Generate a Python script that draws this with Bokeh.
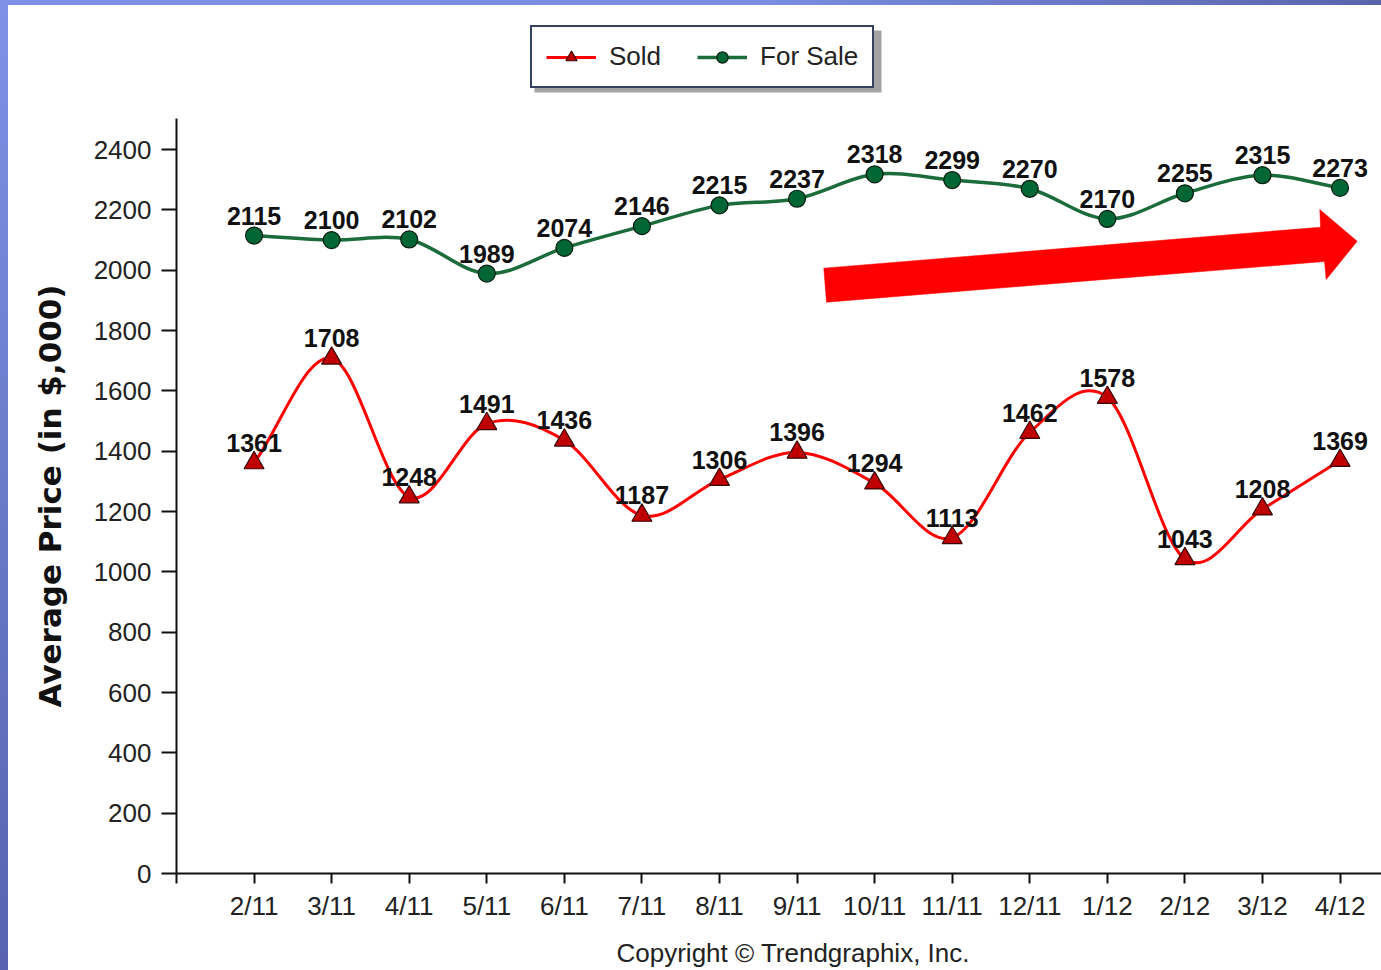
import numpy as np
from bokeh.plotting import figure
from bokeh.models import (ColumnDataSource, FixedTicker, Legend, LegendItem,
                          Range1d, Title, BoxAnnotation)
from bokeh.embed import file_html
from bokeh.resources import INLINE
from bokeh.core.properties import value

# ---------------- data ----------------
months = ["2/11", "3/11", "4/11", "5/11", "6/11", "7/11", "8/11", "9/11",
          "10/11", "11/11", "12/11", "1/12", "2/12", "3/12", "4/12"]
sold = [1361, 1708, 1248, 1491, 1436, 1187, 1306, 1396, 1294, 1113,
        1462, 1578, 1043, 1208, 1369]
for_sale = [2115, 2100, 2102, 1989, 2074, 2146, 2215, 2237, 2318, 2299,
            2270, 2170, 2255, 2315, 2273]
y_ticks = [0, 200, 400, 600, 800, 1000, 1200, 1400, 1600, 1800, 2000, 2200, 2400]
y_axis_top = 2503

x = np.arange(1, len(months) + 1)

# ---------------- geometry ----------------
W, H = 1381, 970
FRAME_LEFT, FRAME_BOTTOM = 176, 873
PX_PER_X = 77.57          # pixels per month
PX_PER_Y = 755 / 2503.0   # pixels per $1,000
X_END = (W - FRAME_LEFT) / PX_PER_X
Y_END = FRAME_BOTTOM / PX_PER_Y


def dx(px):
    return (px - FRAME_LEFT) / PX_PER_X


def dy(py):
    return (FRAME_BOTTOM - py) / PX_PER_Y


def spline_segments(xs, ys):
    """Catmull-Rom segments expressed as cubic Bezier control points."""
    xs = np.asarray(xs, float)
    ys = np.asarray(ys, float)
    mx = np.empty_like(xs)
    my = np.empty_like(ys)
    mx[1:-1] = (xs[2:] - xs[:-2]) / 2
    my[1:-1] = (ys[2:] - ys[:-2]) / 2
    mx[0], my[0] = xs[1] - xs[0], ys[1] - ys[0]
    mx[-1], my[-1] = xs[-1] - xs[-2], ys[-1] - ys[-2]
    return dict(x0=xs[:-1], y0=ys[:-1], x1=xs[1:], y1=ys[1:],
                cx0=xs[:-1] + mx[:-1] / 3, cy0=ys[:-1] + my[:-1] / 3,
                cx1=xs[1:] - mx[1:] / 3, cy1=ys[1:] - my[1:] / 3)


p = figure(width=W, height=H, output_backend="svg", toolbar_location=None,
           x_range=Range1d(0, X_END), y_range=Range1d(0, Y_END),
           min_border_left=FRAME_LEFT, min_border_right=0,
           min_border_top=0, min_border_bottom=H - FRAME_BOTTOM)
p.outline_line_color = None
p.xgrid.visible = False
p.ygrid.visible = False
p.background_fill_alpha = 0
p.border_fill_alpha = 0

# axes
p.xaxis.ticker = FixedTicker(ticks=list(range(0, len(months) + 1)))
overrides = {0: ""}
for i, m in enumerate(months):
    overrides[i + 1] = m
p.xaxis.major_label_overrides = overrides
p.yaxis.ticker = FixedTicker(ticks=y_ticks)
p.yaxis.bounds = (0, y_axis_top)

for ax in (p.xaxis[0], p.yaxis[0]):
    ax.axis_line_width = 2
    ax.axis_line_color = "#111111"
    ax.major_tick_line_width = 2
    ax.major_tick_line_color = "#111111"
    ax.minor_tick_line_color = None
    ax.major_tick_in = 0
    ax.major_label_text_font = "Liberation Sans"
    ax.major_label_text_font_size = "26px"
    ax.major_label_text_color = "#222222"

p.yaxis.major_tick_out = 15
p.yaxis.major_label_standoff = 10
p.xaxis.major_tick_out = 10
p.xaxis.major_label_standoff = 7

# y-axis title, placed along the axis' own extent
p.add_layout(Title(text="Average Price (in $,000)", align="left", offset=166,
                   standoff=46, text_font="DejaVu Sans", text_font_style="bold",
                   text_font_size="31px", text_color="#111111"), "left")

# trend arrow (decoration)
arrow_px = [(823.3, 267.7), (1320, 226.7), (1319.3, 209), (1356.7, 240.7),
            (1325.7, 279), (1324, 261), (826, 301.7)]
p.patch([dx(a) for a, b in arrow_px], [dy(b) for a, b in arrow_px],
        fill_color="#ff0000", line_color="#ff0000", line_width=0.5)

# curves
sold_curve = p.bezier(x0="x0", y0="y0", x1="x1", y1="y1", cx0="cx0", cy0="cy0",
                      cx1="cx1", cy1="cy1",
                      source=ColumnDataSource(spline_segments(x, sold)),
                      line_color="#ff0000", line_width=3)
sale_curve = p.bezier(x0="x0", y0="y0", x1="x1", y1="y1", cx0="cx0", cy0="cy0",
                      cx1="cx1", cy1="cy1",
                      source=ColumnDataSource(spline_segments(x, for_sale)),
                      line_color="#1b6b3b", line_width=3.5)

sold_pts = p.scatter(x, sold, marker="triangle", size=20, fill_color="#c00000",
                     line_color="#3a0505", line_width=1.2)
sale_pts = p.scatter(x, for_sale, marker="circle", size=17, fill_color="#006633",
                     line_color="#0b1d12", line_width=1.2)

label_kw = dict(text_align="center", text_baseline="middle", y_offset=-20,
                text_font=value("Liberation Sans"), text_font_style="bold",
                text_font_size="25px", text_color="#111111")
p.text(x=x, y=sold, text=[str(v) for v in sold], **label_kw)
p.text(x=x, y=for_sale, text=[str(v) for v in for_sale], **label_kw)

# legend shadow + legend
LEG_LEFT, LEG_BOTTOM = 530, 88
p.add_layout(BoxAnnotation(left=dx(LEG_LEFT + 4), right=dx(LEG_LEFT + 351),
                           top=dy(LEG_BOTTOM - 58), bottom=dy(LEG_BOTTOM + 4),
                           fill_color="#8c8c8c", fill_alpha=0.8, line_color=None))
legend = Legend(items=[LegendItem(label="Sold", renderers=[sold_curve, sold_pts]),
                       LegendItem(label="For Sale", renderers=[sale_curve, sale_pts])],
                orientation="horizontal",
                location=(LEG_LEFT - FRAME_LEFT, FRAME_BOTTOM - LEG_BOTTOM),
                margin=0, padding=14, spacing=36, glyph_width=50, glyph_height=28,
                label_standoff=13, label_width=52,
                label_text_font="Liberation Sans", label_text_font_size="26px",
                label_text_color="#222222",
                border_line_color="#34425f", border_line_width=2, border_line_alpha=1,
                background_fill_color="white", background_fill_alpha=1)
p.add_layout(legend)

# copyright note under the axis
p.add_layout(Title(text="Copyright \u00a9 Trendgraphix, Inc.", align="left",
                   offset=616 - FRAME_LEFT, standoff=5,
                   padding=dict(left=0, right=0, top=10, bottom=0),
                   text_font="Liberation Sans",
                   text_font_style="normal", text_font_size="26px",
                   text_color="#222222"), "below")

STYLE = ("<style>body{background-color:#ffffff;"
         "background-image:linear-gradient(to bottom,#7d92e6,#5763ae),"
         "linear-gradient(to right,#7d92e6 0%,#7a8ee0 55%,#5a64ab 100%);"
         "background-size:8px 100%,100% 5px;background-repeat:no-repeat;"
         "background-position:0 0,0 0;}</style>")

open("out.html", "w").write(file_html(p, INLINE).replace("</head>", STYLE + "</head>", 1))
